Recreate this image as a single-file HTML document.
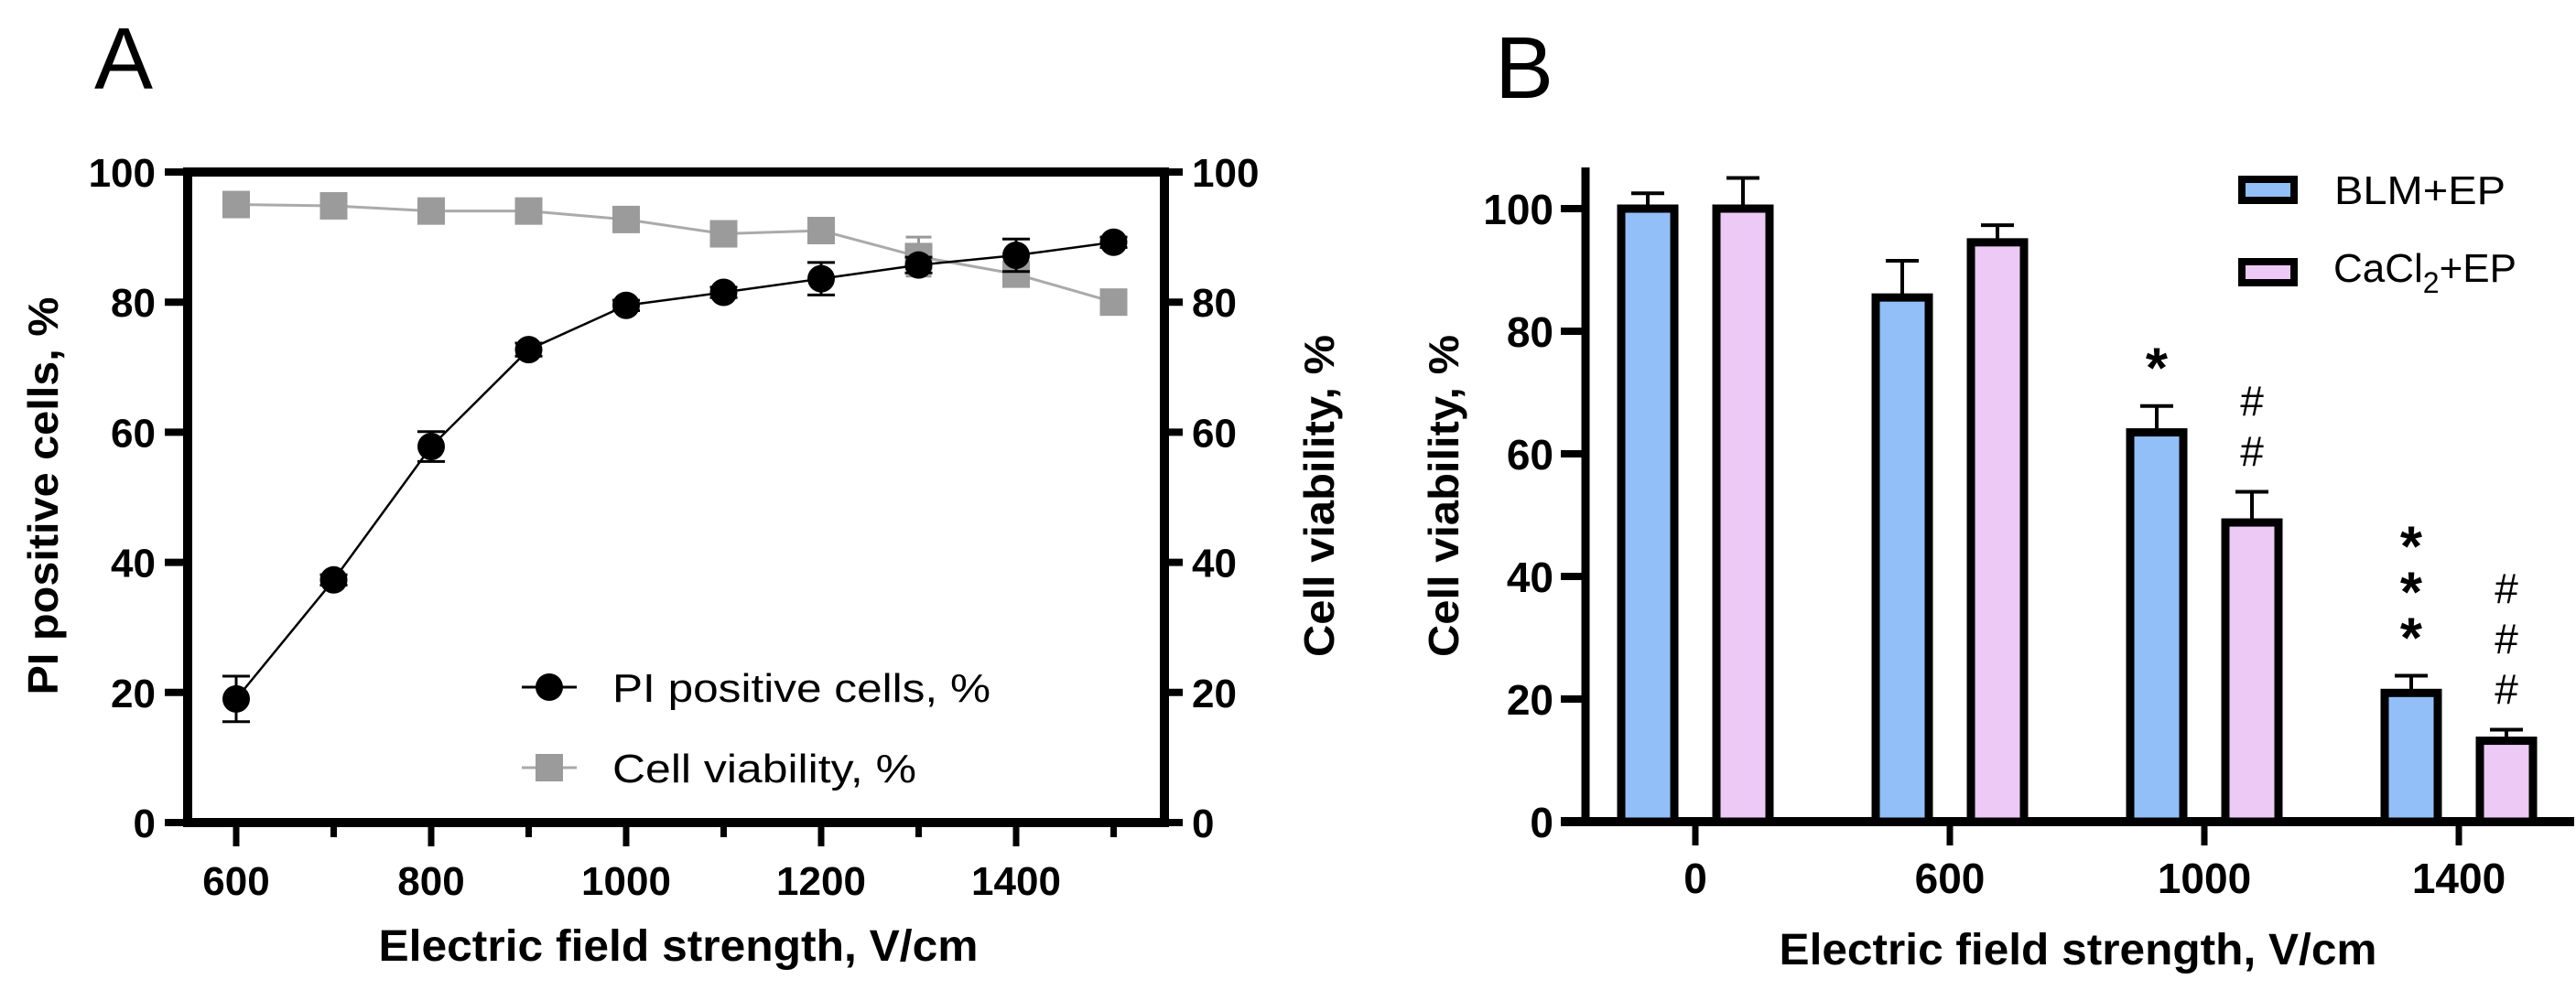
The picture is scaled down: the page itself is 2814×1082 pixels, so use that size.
<!DOCTYPE html>
<html><head><meta charset="utf-8"><style>
html,body{margin:0;padding:0;background:#fff;}
svg{display:block;font-family:"Liberation Sans",Arial,sans-serif;}
</style></head><body>
<svg id="fig" width="2814" height="1082" viewBox="0 0 2814 1082" xmlns="http://www.w3.org/2000/svg">
<g id="pa"></g>
<g id="pb"></g>
</svg>
<script>
// Panel A data
const aX = [600,700,800,900,1000,1100,1200,1300,1400,1500];
const aPI = [19,37.3,57.8,72.7,79.5,81.5,83.6,85.7,87.2,89.2];
const aPIerr = [3.5,0.8,2.3,1.0,0.8,0.8,2.5,1.2,2.5,0.8];
const aViab = [95,94.8,94,94,92.7,90.5,91,87,84.3,80];
const aViabErr = [0.8,0.8,0.8,0.8,1.5,0.8,0.8,3,0.8,0.8];
const aXTicks = [600,800,1000,1200,1400];
const aYTicks = [0,20,40,60,80,100];
// Panel B data
const bCats = ["0","600","1000","1400"];
const bBLM = [100,85.5,63.5,21];
const bBLMerr = [2.5,6,4.3,2.8];
const bCa = [100,94.5,48.8,13.2];
const bCaErr = [5,2.8,5,1.8];
const bYTicks = [0,20,40,60,80,100];
const bBLMMarks = ["","","*","***"];
const bCaMarks = ["","","##","###"];

const NS="http://www.w3.org/2000/svg";
function mk(parent,tag,attrs,text){const e=document.createElementNS(NS,tag);for(const k in attrs)e.setAttribute(k,attrs[k]);if(text!==undefined)e.textContent=text;parent.appendChild(e);return e;}

// ---------- Panel A ----------
const pa=document.getElementById('pa');
const ax=v=>258+(v-600)*1.065;
const ay=v=>899-v*7.11;
let t;
t=mk(pa,'text',{x:103,y:97,'font-size':96});t.textContent='A';


// frame
let fr=mk(pa,'path',{d:`M205 ${ay(100)} V899 H1272 V${ay(100)} Z`,fill:'none',stroke:'#000','stroke-width':10});


aYTicks.forEach(v=>{
  let l=mk(pa,'line',{x1:180,x2:205,y1:ay(v),y2:ay(v),stroke:'#000','stroke-width':8});
  
  
  let tx=mk(pa,'text',{x:170,y:ay(v)+16,'font-size':44,'font-weight':'bold','text-anchor':'end'},String(v));
  
  
  let l2=mk(pa,'line',{x1:1272,x2:1292,y1:ay(v),y2:ay(v),stroke:'#000','stroke-width':8});
  
  
  let tx2=mk(pa,'text',{x:1302,y:ay(v)+16,'font-size':44,'font-weight':'bold'},String(v));
  
  
});
aX.forEach(v=>{
  const major=aXTicks.includes(v);
  let l=mk(pa,'line',{x1:ax(v),x2:ax(v),y1:899,y2:major?925:915,stroke:'#000','stroke-width':7});
  
  
});
aXTicks.forEach(v=>{
  let tx=mk(pa,'text',{x:ax(v),y:978,'font-size':44,'font-weight':'bold','text-anchor':'middle'},String(v));
  
  
});
t=mk(pa,'text',{x:741,y:1050,'font-size':48,'font-weight':'bold','text-anchor':'middle',textLength:655,lengthAdjust:'spacingAndGlyphs'},'Electric field strength, V/cm');


t=mk(pa,'text',{x:0,y:0,'font-size':46,'font-weight':'bold','text-anchor':'middle',transform:'translate(63,542) rotate(-90)',textLength:435,lengthAdjust:'spacingAndGlyphs'},'PI positive cells, %');


t=mk(pa,'text',{x:0,y:0,'font-size':46,'font-weight':'bold','text-anchor':'middle',transform:'translate(1457,542) rotate(-90)',textLength:352,lengthAdjust:'spacingAndGlyphs'},'Cell viability, %');


// viability series
let vl=mk(pa,'polyline',{points:aX.map((x,i)=>ax(x)+','+ay(aViab[i])).join(' '),fill:'none',stroke:'#aaa','stroke-width':3});


aX.forEach((x,i)=>{
  const cx=ax(x),cy=ay(aViab[i]),e=aViabErr[i]*7.11;
  let eb=mk(pa,'path',{d:`M${cx} ${cy-e}V${cy+e}M${cx-14} ${cy-e}H${cx+14}M${cx-14} ${cy+e}H${cx+14}`,stroke:'#999','stroke-width':3,fill:'none'});
  
  
  let s=mk(pa,'rect',{x:cx-15,y:cy-15,width:30,height:30,fill:'#9b9b9b'});
  
  
});
// PI series
let pl=mk(pa,'polyline',{points:aX.map((x,i)=>ax(x)+','+ay(aPI[i])).join(' '),fill:'none',stroke:'#000','stroke-width':2.5});


aX.forEach((x,i)=>{
  const cx=ax(x),cy=ay(aPI[i]),e=aPIerr[i]*7.11;
  let eb=mk(pa,'path',{d:`M${cx} ${cy-e}V${cy+e}M${cx-15} ${cy-e}H${cx+15}M${cx-15} ${cy+e}H${cx+15}`,stroke:'#000','stroke-width':3,fill:'none'});
  
  
  let c=mk(pa,'circle',{cx:cx,cy:cy,r:15,fill:'#000'});
  
  
});
// legend A
let lg=mk(pa,'g',{});


mk(lg,'line',{x1:570,x2:630,y1:751,y2:751,stroke:'#000','stroke-width':3});
mk(lg,'circle',{cx:600,cy:751,r:15,fill:'#000'});
t=mk(lg,'text',{x:669,y:767,'font-size':44,textLength:413,lengthAdjust:'spacingAndGlyphs'},'PI positive cells, %');


mk(lg,'line',{x1:570,x2:630,y1:839,y2:839,stroke:'#aaa','stroke-width':3});
mk(lg,'rect',{x:585,y:824,width:30,height:30,fill:'#9b9b9b'});
t=mk(lg,'text',{x:669,y:855,'font-size':44,textLength:332,lengthAdjust:'spacingAndGlyphs'},'Cell viability, %');



// ---------- Panel B ----------
const pb=document.getElementById('pb');
const by=v=>898-v*6.7;
const bx=i=>1852+i*278;
t=mk(pb,'text',{x:1633,y:107,'font-size':96},'B');


let yax=mk(pb,'line',{x1:1732,x2:1732,y1:183,y2:903,stroke:'#000','stroke-width':9});


let xax=mk(pb,'line',{x1:1705,x2:2812,y1:898,y2:898,stroke:'#000','stroke-width':10});


bYTicks.forEach(v=>{
  let l=mk(pb,'line',{x1:1705,x2:1732,y1:by(v),y2:by(v),stroke:'#000','stroke-width':8});
  
  
  let tx=mk(pb,'text',{x:1697,y:by(v)+17,'font-size':46,'font-weight':'bold','text-anchor':'end'},String(v));
  
  
});
t=mk(pb,'text',{x:0,y:0,'font-size':46,'font-weight':'bold','text-anchor':'middle',transform:'translate(1593,542) rotate(-90)',textLength:352,lengthAdjust:'spacingAndGlyphs'},'Cell viability, %');


t=mk(pb,'text',{x:2270,y:1054,'font-size':48,'font-weight':'bold','text-anchor':'middle',textLength:653,lengthAdjust:'spacingAndGlyphs'},'Electric field strength, V/cm');


function bar(cx,v,err,fill,name){
  const top=by(v),e=err*6.7;
  let eb=mk(pb,'path',{d:`M${cx} ${top}V${top-e}M${cx-18} ${top-e}H${cx+18}`,stroke:'#000','stroke-width':4,fill:'none'});
  
  
  let r=mk(pb,'rect',{x:cx-29,y:top,width:58,height:898-top,fill:fill,stroke:'#000','stroke-width':9});
  
  
}
function marks(cx,v,err,str,name){
  const top=by(v)-err*6.7;
  const n=str.length;
  const step=str[0]==='*'?50:55;
  for(let k=0;k<n;k++){
    const y=top-40-(n-1-k)*step;
    let m=mk(pb,'text',{x:cx,y:str[0]==='*'?y+20:y+12,'font-size':str[0]==='*'?62:46,'font-weight':str[0]==='*'?'bold':'normal','text-anchor':'middle'},str[k]);
    
    
  }
}
bCats.forEach((c,i)=>{
  const cx=bx(i);
  let l=mk(pb,'line',{x1:cx,x2:cx,y1:898,y2:924,stroke:'#000','stroke-width':7});
  
  
  let tx=mk(pb,'text',{x:cx,y:976,'font-size':46,'font-weight':'bold','text-anchor':'middle'},c);
  
  
  bar(cx-52,bBLM[i],bBLMerr[i],'#92bff7','blm-ep');
  bar(cx+52,bCa[i],bCaErr[i],'#eccaf5','cacl2-ep');
  if(bBLMMarks[i])marks(cx-52,bBLM[i],bBLMerr[i],bBLMMarks[i],'significance-star');
  if(bCaMarks[i])marks(cx+52,bCa[i],bCaErr[i],bCaMarks[i],'significance-hash');
});
// legend B
let lb=mk(pb,'g',{});


mk(lb,'rect',{x:2449,y:196,width:57,height:23,fill:'#92bff7',stroke:'#000','stroke-width':8});
t=mk(lb,'text',{x:2550,y:223,'font-size':44,textLength:187,lengthAdjust:'spacingAndGlyphs'},'BLM+EP');


mk(lb,'rect',{x:2449,y:286,width:57,height:23,fill:'#eccaf5',stroke:'#000','stroke-width':8});
t=mk(lb,'text',{x:2549,y:308,'font-size':44},'');


mk(t,'tspan',{},'CaCl');
mk(t,'tspan',{dy:12,'font-size':32},'2');
mk(t,'tspan',{dy:-12},'+EP');
</script>
</body></html>
